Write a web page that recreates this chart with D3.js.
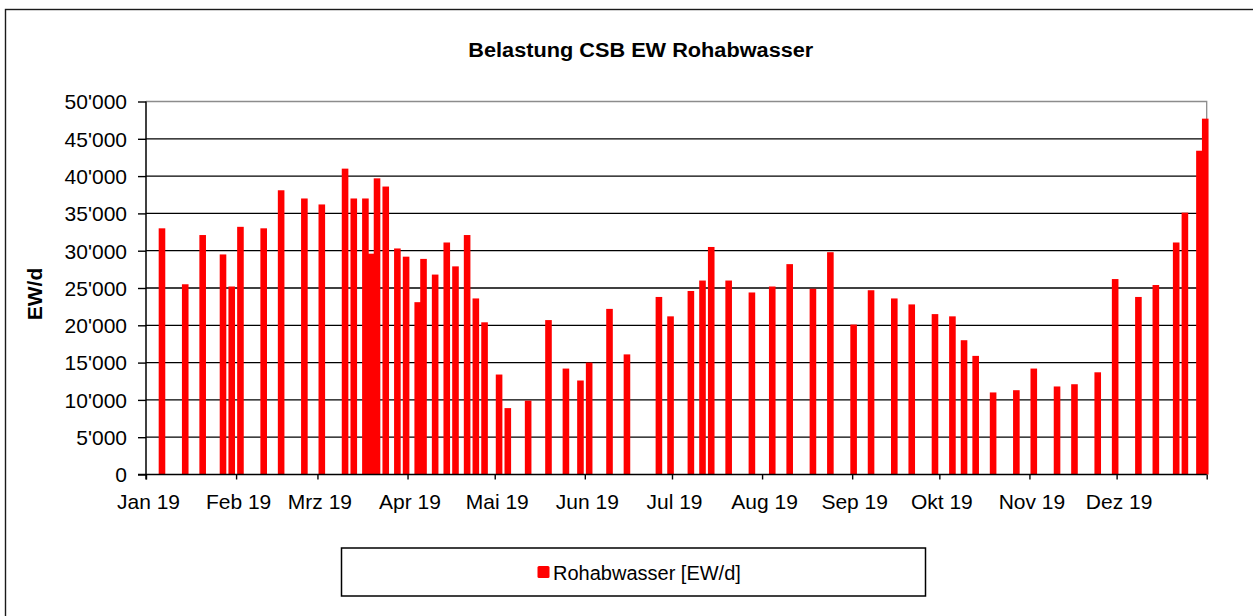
<!DOCTYPE html>
<html>
<head>
<meta charset="utf-8">
<script src="https://cdn.jsdelivr.net/npm/d3@7"></script>
<style>
  html, body { margin: 0; padding: 0; background: #fff; }
  svg { display: block; font-family: "Liberation Sans", Arial, sans-serif; }
</style>
</head>
<body>
<svg id="chart" width="1253" height="616"></svg>
<script>
// ---------- data ----------
const dates = [
  "2019-01-06","2019-01-14","2019-01-20","2019-01-27","2019-01-30","2019-02-02","2019-02-10","2019-02-16",
  "2019-02-24","2019-03-02","2019-03-10","2019-03-13","2019-03-17","2019-03-19","2019-03-21","2019-03-24",
  "2019-03-28","2019-03-31","2019-04-04","2019-04-06","2019-04-10","2019-04-14","2019-04-17","2019-04-21",
  "2019-04-24","2019-04-27","2019-05-02","2019-05-05","2019-05-12","2019-05-19","2019-05-25","2019-05-30",
  "2019-06-02","2019-06-09","2019-06-15","2019-06-26","2019-06-30","2019-07-07","2019-07-11","2019-07-14",
  "2019-07-20","2019-07-28","2019-08-04","2019-08-10","2019-08-18","2019-08-24","2019-09-01","2019-09-07",
  "2019-09-15","2019-09-21","2019-09-29","2019-10-05","2019-10-09","2019-10-13","2019-10-19","2019-10-27",
  "2019-11-02","2019-11-10","2019-11-16","2019-11-24","2019-11-30","2019-12-08","2019-12-14","2019-12-21",
  "2019-12-24","2019-12-29","2019-12-31"
];
const values = [
  33000,25500,32100,29500,25200,33200,33000,38100,
  37000,36200,41000,37000,37000,29600,39700,38600,
  30300,29200,23100,28900,26800,31100,27900,32100,
  23600,20400,13400,8900,9900,20700,14200,12600,
  15000,22200,16100,23800,21200,24600,26000,30500,
  26000,24400,25200,28200,24900,29800,20100,24700,
  23600,22800,21500,21200,18000,15900,11000,11300,
  14200,11800,12100,13700,26200,23800,25400,31100,
  35100,43400,47700
];
const monthLabels = ["Jan 19","Feb 19","Mrz 19","Apr 19","Mai 19","Jun 19","Jul 19","Aug 19","Sep 19","Okt 19","Nov 19","Dez 19"];
const yTicks = [0,5000,10000,15000,20000,25000,30000,35000,40000,45000,50000];
const title = "Belastung CSB EW Rohabwasser";
const yTitle = "EW/d";
const seriesName = "Rohabwasser [EW/d]";

// ---------- layout ----------
const svg = d3.select("#chart");
const plot = { left: 146, right: 1206.7, top: 101.5, bottom: 474.5 };
const parse = d3.utcParse("%Y-%m-%d");
const data = dates.map((d, i) => ({ date: parse(d), value: values[i] }));

const x = d3.scaleUtc()
  .domain([new Date(Date.UTC(2019, 0, 1)), new Date(Date.UTC(2020, 0, 1))])
  .range([plot.left, plot.right]);
const y = d3.scaleLinear().domain([0, 50000]).range([plot.bottom, plot.top]);
const dayW = x(new Date(Date.UTC(2019, 0, 2))) - x(new Date(Date.UTC(2019, 0, 1)));
const barW = 6.6;

const fmt = d3.formatLocale({ decimal: ".", thousands: "'", grouping: [3], currency: ["", ""] }).format(",");

// outer frame
svg.append("rect").attr("x", 5.5).attr("y", 9.5).attr("width", 1270).attr("height", 640)
  .attr("fill", "none").attr("stroke", "#1a1a1a").attr("stroke-width", 1.4);

// title
svg.append("text").attr("x", 640.8).attr("y", 57.3).attr("text-anchor", "middle")
  .attr("font-size", 20).attr("font-weight", "bold").attr("fill", "#000")
  .attr("textLength", 345).attr("lengthAdjust", "spacingAndGlyphs")
  .text(title);

// gridlines
svg.append("g").selectAll("line").data(yTicks.filter(v => v > 0 && v < 50000)).join("line")
  .attr("x1", plot.left).attr("x2", plot.right)
  .attr("y1", d => y(d)).attr("y2", d => y(d))
  .attr("stroke", "#000").attr("stroke-width", 1.3);

// plot border (top + right in gray)
svg.append("path")
  .attr("d", `M${plot.left},${y(50000)}H${plot.right}V${plot.bottom}`)
  .attr("fill", "none").attr("stroke", "#8c8c8c").attr("stroke-width", 1.3);

// bars
svg.append("g").selectAll("rect").data(data).join("rect")
  .attr("x", d => x(d.date) + dayW / 2 - barW / 2)
  .attr("width", barW)
  .attr("y", d => y(d.value))
  .attr("height", d => y(0) - y(d.value))
  .attr("fill", "#ff0000");

// y axis
const yAxis = svg.append("g").attr("transform", `translate(${plot.left},0)`)
  .call(d3.axisLeft(y).tickValues(yTicks).tickSize(8).tickSizeOuter(0).tickPadding(11).tickFormat(fmt));
yAxis.select(".domain").attr("stroke", "#000").attr("stroke-width", 1.5)
  .attr("d", `M0,${plot.top}V${plot.bottom + 5}`);
yAxis.selectAll(".tick line").attr("stroke", "#000").attr("stroke-width", 1.4);
yAxis.selectAll(".tick text").attr("font-size", 21).attr("fill", "#000")
  .attr("font-family", "Liberation Sans, Arial, sans-serif").attr("dy", "0.35em");

// x axis
const monthTicks = d3.utcMonth.range(new Date(Date.UTC(2019, 0, 1)), new Date(Date.UTC(2020, 0, 2)));
const xAxis = svg.append("g").attr("transform", `translate(0,${plot.bottom})`)
  .call(d3.axisBottom(x).tickValues(monthTicks).tickSize(5).tickSizeOuter(0).tickPadding(14.5)
    .tickFormat((d, i) => monthLabels[i] || ""));
xAxis.select(".domain").attr("stroke", "#000").attr("stroke-width", 1.5)
  .attr("d", `M${plot.left - 8},0H${plot.right}`);
xAxis.selectAll(".tick line").attr("stroke", "#000").attr("stroke-width", 1.4);
xAxis.selectAll(".tick text").attr("font-size", 21).attr("fill", "#000")
  .attr("font-family", "Liberation Sans, Arial, sans-serif").attr("dx", 2);

// y axis title
svg.append("text").attr("transform", "translate(42,294) rotate(-90)")
  .attr("text-anchor", "middle").attr("font-size", 21).attr("font-weight", "bold").attr("fill", "#000")
  .text(yTitle);

// legend
svg.append("rect").attr("x", 341.5).attr("y", 548).attr("width", 584).attr("height", 48)
  .attr("fill", "#fff").attr("stroke", "#000").attr("stroke-width", 1.5);
svg.append("rect").attr("x", 537.5).attr("y", 566).attr("width", 12).attr("height", 12)
  .attr("rx", 1.5).attr("fill", "#ff0000");
svg.append("text").attr("x", 553).attr("y", 580).attr("font-size", 20).attr("fill", "#000")
  .text(seriesName);
</script>
</body>
</html>
